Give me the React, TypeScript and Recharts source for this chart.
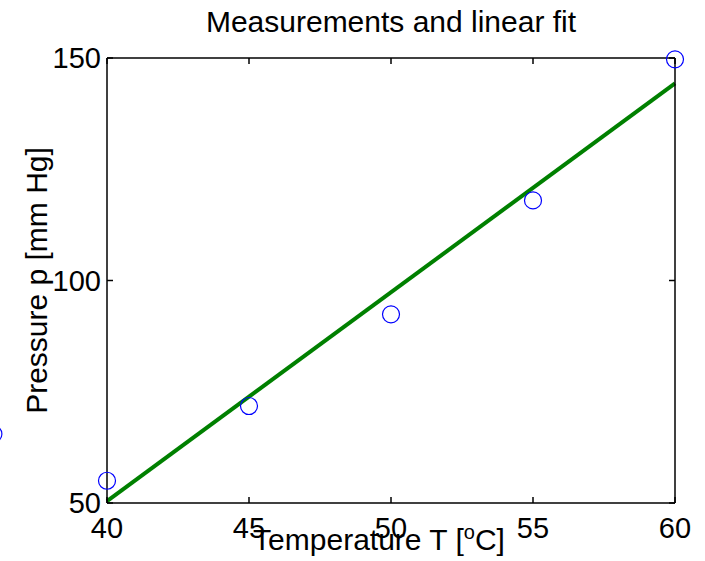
import React from 'react';
import { ComposedChart, Scatter, Line, XAxis, YAxis, ReferenceDot } from 'recharts';

const temperatures = [40, 45, 50, 55, 60];
const pressures = [55.0, 71.8, 92.4, 118.0, 149.7];
const fitTemperatures = [40, 60];
const fitPressures = [50.4, 144.3];
const xTicks = [40, 45, 50, 55, 60];
const yTicks = [50, 100, 150];
const strayPoint = { t: 36, p: 65.5 };

const measured = temperatures.map((t, i) => ({ t, p: pressures[i] }));
const fit = fitTemperatures.map((t, i) => ({ t, p: fitPressures[i] }));

const FONT = 'Liberation Sans, Arial, Helvetica, sans-serif';
const TICK_FS = 29;
const LABEL_FS = 30;
const TL = 6;

const BottomTick = (props: any) => {
  const { x, y, payload } = props;
  return (
    <g>
      <line x1={x} y1={y} x2={x} y2={y - TL} stroke="#000" strokeWidth={1.5} />
      <text x={x} y={y + 14} dy="0.716em" textAnchor="middle" fontFamily={FONT} fontSize={TICK_FS} fill="#000">
        {payload.value}
      </text>
    </g>
  );
};

const TopTick = (props: any) => {
  const { x, y } = props;
  return <line x1={x} y1={y} x2={x} y2={y + TL} stroke="#000" strokeWidth={1.5} />;
};

const LeftTick = (props: any) => {
  const { x, y, payload } = props;
  return (
    <g>
      <line x1={x} y1={y} x2={x + TL} y2={y} stroke="#000" strokeWidth={1.5} />
      <text x={x - 6} y={y} dy="0.358em" textAnchor="end" fontFamily={FONT} fontSize={TICK_FS} fill="#000">
        {payload.value}
      </text>
    </g>
  );
};

const RightTick = (props: any) => {
  const { x, y } = props;
  return <line x1={x} y1={y} x2={x - TL} y2={y} stroke="#000" strokeWidth={1.5} />;
};

const TitleLabel = (props: any) => {
  const vb = props.viewBox;
  return (
    <text x={vb.x + vb.width / 2} y={vb.y + vb.height - 26} textAnchor="middle" fontFamily={FONT} fontSize={LABEL_FS} fill="#000">
      Measurements and linear fit
    </text>
  );
};

const XLabel = (props: any) => {
  const vb = props.viewBox;
  return (
    <text x={vb.x + vb.width / 2 - 12} y={vb.y + 47} textAnchor="middle" fontFamily={FONT} fontSize={LABEL_FS} fill="#000">
      <tspan>Temperature T [</tspan>
      <tspan dy={-11} fontSize={20}>o</tspan>
      <tspan dy={11}>C]</tspan>
    </text>
  );
};

const YLabel = (props: any) => {
  const vb = props.viewBox;
  const cx = 47;
  const cy = vb.y + vb.height / 2;
  return (
    <text x={cx} y={cy} transform={`rotate(-90 ${cx} ${cy})`} textAnchor="middle" fontFamily={FONT} fontSize={LABEL_FS} fill="#000">
      Pressure p [mm Hg]
    </text>
  );
};

const Circle = (props: any) => (
  <circle cx={props.cx} cy={props.cy} r={8.5} fill="none" stroke="#0000ff" strokeWidth={1.2} />
);

export default function App() {
  return (
    <div style={{ position: 'absolute', left: 0, top: 0 }}>
      <ComposedChart width={705} height={561} margin={{ top: 57, right: 29, bottom: 57, left: 106 }}>
        <XAxis
          xAxisId={0}
          type="number"
          dataKey="t"
          domain={[40, 60]}
          ticks={xTicks}
          height={1}
          tickSize={0}
          tickMargin={0}
          tickLine={false}
          axisLine={{ stroke: '#000', strokeWidth: 1.5 }}
          tick={<BottomTick />}
          interval={0}
          label={<XLabel />}
        />
        <XAxis
          xAxisId="top"
          orientation="top"
          type="number"
          dataKey="t"
          domain={[40, 60]}
          allowDataOverflow
          ticks={xTicks}
          height={1}
          tickSize={0}
          tickMargin={0}
          tickLine={false}
          axisLine={{ stroke: '#000', strokeWidth: 1.5 }}
          tick={<TopTick />}
          interval={0}
          label={<TitleLabel />}
        />
        <YAxis
          yAxisId={0}
          type="number"
          dataKey="p"
          domain={[50, 150]}
          ticks={yTicks}
          width={1}
          tickSize={0}
          tickMargin={0}
          tickLine={false}
          axisLine={{ stroke: '#000', strokeWidth: 1.5 }}
          tick={<LeftTick />}
          interval={0}
          label={<YLabel />}
        />
        <YAxis
          yAxisId="right"
          orientation="right"
          type="number"
          dataKey="p"
          domain={[50, 150]}
          allowDataOverflow
          ticks={yTicks}
          width={1}
          tickSize={0}
          tickMargin={0}
          tickLine={false}
          axisLine={{ stroke: '#000', strokeWidth: 1.5 }}
          tick={<RightTick />}
          interval={0}
        />
        <Scatter data={measured} dataKey="p" shape={<Circle />} isAnimationActive={false} />
        <Line data={fit} dataKey="p" type="linear" stroke="#008000" strokeWidth={4} dot={false} activeDot={false} isAnimationActive={false} />
        <ReferenceDot x={strayPoint.t} y={strayPoint.p} r={8.5} fill="none" stroke="#0000ff" strokeWidth={1.2} ifOverflow="visible" />
      </ComposedChart>
    </div>
  );
}
